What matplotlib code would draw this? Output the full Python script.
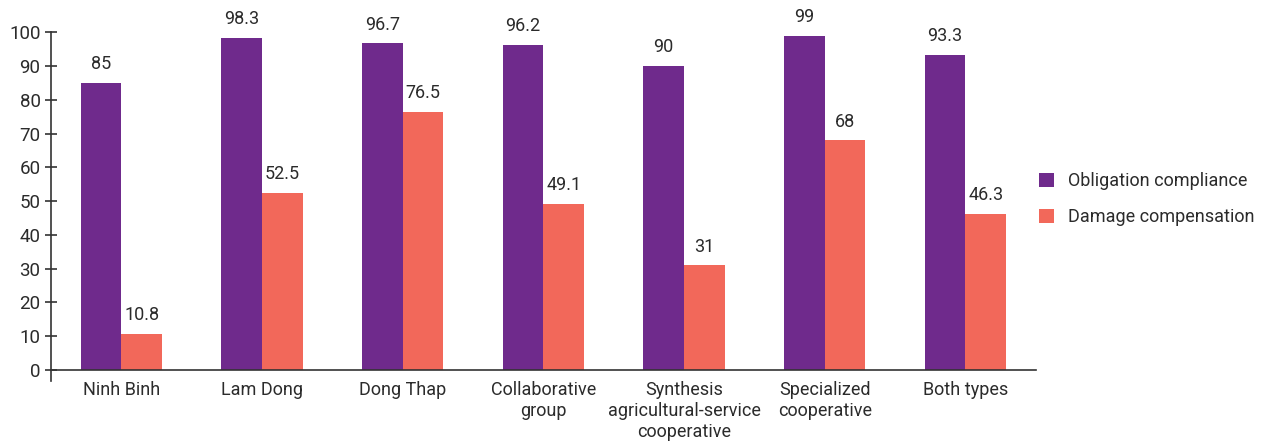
import matplotlib
matplotlib.use("Agg")
import matplotlib.pyplot as plt
import numpy as np

categories = ["Ninh Binh", "Lam Dong", "Dong Thap", "Collaborative\ngroup",
              "Synthesis\nagricultural-service\ncooperative",
              "Specialized\ncooperative", "Both types"]
obligation = [85, 98.3, 96.7, 96.2, 90, 99, 93.3]
damage = [10.8, 52.5, 76.5, 49.1, 31, 68, 46.3]
series_names = ["Obligation compliance", "Damage compensation"]
yticks = [0, 10, 20, 30, 40, 50, 60, 70, 80, 90, 100]

purple = "#6f2a8c"
coral = "#f2685a"
text_color = "#2b2b2b"

plt.rcParams['font.family'] = ['Roboto', 'DejaVu Sans']

fig = plt.figure(figsize=(12.63, 4.47), dpi=100)
ax = fig.add_axes([0.0404, 0.148, 0.7796, 0.78])

x = np.arange(len(categories))
w = 0.29
b1 = ax.bar(x - w / 2, obligation, w, color=purple, label=series_names[0])
b2 = ax.bar(x + w / 2, damage, w, color=coral, label=series_names[1])

for bars, vals in ((b1, obligation), (b2, damage)):
    for rect, v in zip(bars, vals):
        ax.annotate(f"{v:g}", (rect.get_x() + rect.get_width() / 2, v),
                    xytext=(0, 7), textcoords="offset points",
                    ha="center", va="bottom", fontsize=13, color=text_color)

ax.set_xlim(-0.5, len(categories) - 0.5)
ax.set_ylim(-3.2, 100)
ax.set_yticks(yticks)
ax.set_xticks(x)
ax.set_xticklabels(categories)
for lbl in ax.get_xticklabels():
    lbl.set_linespacing(1.35)
ax.tick_params(axis="x", length=0, pad=8, labelsize=13, labelcolor=text_color)
ax.tick_params(axis="y", direction="inout", length=9, width=1.2,
               labelsize=13.5, labelcolor=text_color, color="#333333", pad=3)

for s in ("top", "right"):
    ax.spines[s].set_visible(False)
ax.spines["bottom"].set_position(("data", 0))
ax.spines["bottom"].set_color("#333333")
ax.spines["bottom"].set_linewidth(1.2)
ax.spines["left"].set_color("#333333")
ax.spines["left"].set_linewidth(1.2)

fig.legend(handles=[b1, b2], labels=series_names, loc="center left",
           bbox_to_anchor=(0.81, 0.555), frameon=False, fontsize=13,
           handlelength=0.8, handleheight=0.8, handletextpad=0.8,
           labelspacing=1.0, labelcolor=text_color)

fig.savefig("out.png", dpi=100, facecolor="white")
